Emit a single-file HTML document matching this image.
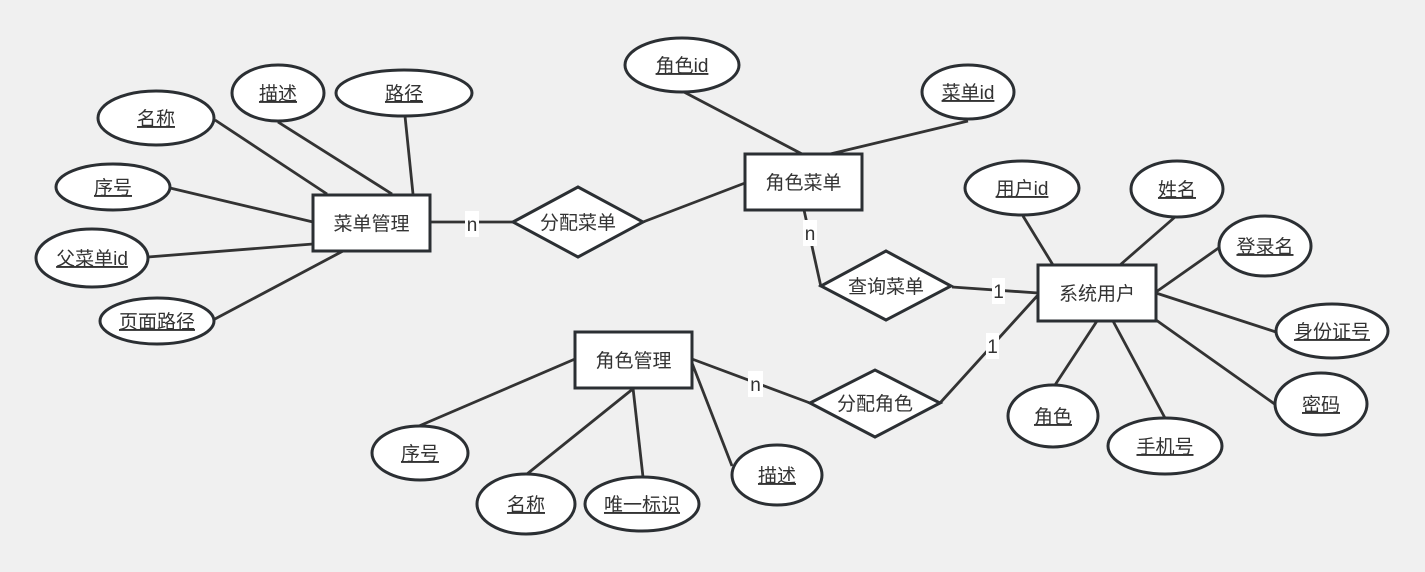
<!DOCTYPE html>
<html><head><meta charset="utf-8"><style>
html,body{margin:0;padding:0;background:#f0f0f0;}
svg{display:block;}
text{font-family:"Liberation Sans","Noto Sans CJK SC",sans-serif;font-size:19px;fill:#333;}
.u{text-decoration:underline;}
.l{stroke:#333;stroke-width:2.8;fill:none;}
.s{stroke:#2b2f33;stroke-width:3;fill:#fff;}
</style></head><body>
<svg width="1425" height="572" viewBox="0 0 1425 572" xmlns="http://www.w3.org/2000/svg">
<rect x="0" y="0" width="1425" height="572" fill="#f0f0f0"/>
<!-- lines -->
<g class="l">
<line x1="215" y1="120" x2="327" y2="194"/>
<line x1="278" y1="122" x2="392" y2="194"/>
<line x1="405" y1="116" x2="413" y2="194"/>
<line x1="170" y1="188" x2="313" y2="222"/>
<line x1="148" y1="257" x2="313" y2="244"/>
<line x1="213" y1="320" x2="343" y2="251"/>
<line x1="430" y1="222" x2="513" y2="222"/>
<line x1="643" y1="222" x2="745" y2="183"/>
<line x1="684" y1="92" x2="802" y2="154"/>
<line x1="968" y1="121" x2="826" y2="155"/>
<line x1="804" y1="210" x2="821" y2="287"/>
<line x1="952" y1="287" x2="1038" y2="293"/>
<line x1="1023" y1="216" x2="1053" y2="265"/>
<line x1="1175" y1="217" x2="1120" y2="265"/>
<line x1="1220" y1="247" x2="1156" y2="292"/>
<line x1="1276" y1="332" x2="1156" y2="293"/>
<line x1="1276" y1="405" x2="1156" y2="320"/>
<line x1="1165" y1="418" x2="1113" y2="321"/>
<line x1="1055" y1="385" x2="1097" y2="321"/>
<line x1="940" y1="403" x2="1038" y2="295"/>
<line x1="419" y1="426" x2="575" y2="359"/>
<line x1="527" y1="474" x2="634" y2="388"/>
<line x1="643" y1="477" x2="633" y2="388"/>
<line x1="732" y1="466" x2="692" y2="363"/>
<line x1="692" y1="359" x2="810" y2="403"/>
</g>
<!-- entities -->
<rect class="s" x="313" y="195" width="117" height="56"/>
<text x="371.5" y="230" text-anchor="middle">菜单管理</text>
<rect class="s" x="745" y="154" width="117" height="56"/>
<text x="803.5" y="189" text-anchor="middle">角色菜单</text>
<rect class="s" x="1038" y="265" width="118" height="56"/>
<text x="1097" y="300" text-anchor="middle">系统用户</text>
<rect class="s" x="575" y="332" width="117" height="56"/>
<text x="633.5" y="367" text-anchor="middle">角色管理</text>
<!-- relations -->
<polygon class="s" points="513,222 578,187 643,222 578,257"/>
<text x="578" y="229" text-anchor="middle">分配菜单</text>
<polygon class="s" points="821,286 886,251 951,286 886,320"/>
<text x="886" y="293" text-anchor="middle">查询菜单</text>
<polygon class="s" points="810,403 875,370 940,403 875,437"/>
<text x="875" y="410" text-anchor="middle">分配角色</text>
<!-- attributes -->
<g>
<ellipse class="s" cx="156" cy="118" rx="58" ry="27"/><text class="u" x="156" y="125" text-anchor="middle">名称</text>
<ellipse class="s" cx="278" cy="93" rx="46" ry="28"/><text class="u" x="278" y="100" text-anchor="middle">描述</text>
<ellipse class="s" cx="404" cy="93" rx="68" ry="23"/><text class="u" x="404" y="100" text-anchor="middle">路径</text>
<ellipse class="s" cx="113" cy="187" rx="57" ry="23"/><text class="u" x="113" y="194" text-anchor="middle">序号</text>
<ellipse class="s" cx="92" cy="258" rx="56" ry="29"/><text class="u" x="92" y="265" text-anchor="middle">父菜单id</text>
<ellipse class="s" cx="157" cy="321" rx="57" ry="23"/><text class="u" x="157" y="328" text-anchor="middle">页面路径</text>
<ellipse class="s" cx="682" cy="65" rx="57" ry="27"/><text class="u" x="682" y="72" text-anchor="middle">角色id</text>
<ellipse class="s" cx="968" cy="92" rx="46" ry="27"/><text class="u" x="968" y="99" text-anchor="middle">菜单id</text>
<ellipse class="s" cx="1022" cy="188" rx="57" ry="27"/><text class="u" x="1022" y="195" text-anchor="middle">用户id</text>
<ellipse class="s" cx="1177" cy="189" rx="46" ry="28"/><text class="u" x="1177" y="196" text-anchor="middle">姓名</text>
<ellipse class="s" cx="1265" cy="246" rx="46" ry="30"/><text class="u" x="1265" y="253" text-anchor="middle">登录名</text>
<ellipse class="s" cx="1332" cy="331" rx="56" ry="27"/><text class="u" x="1332" y="338" text-anchor="middle">身份证号</text>
<ellipse class="s" cx="1321" cy="404" rx="46" ry="31"/><text class="u" x="1321" y="411" text-anchor="middle">密码</text>
<ellipse class="s" cx="1165" cy="446" rx="57" ry="28"/><text class="u" x="1165" y="453" text-anchor="middle">手机号</text>
<ellipse class="s" cx="1053" cy="416" rx="45" ry="31"/><text class="u" x="1053" y="423" text-anchor="middle">角色</text>
<ellipse class="s" cx="420" cy="453" rx="48" ry="27"/><text class="u" x="420" y="460" text-anchor="middle">序号</text>
<ellipse class="s" cx="526" cy="504" rx="49" ry="30"/><text class="u" x="526" y="511" text-anchor="middle">名称</text>
<ellipse class="s" cx="642" cy="504" rx="57" ry="27"/><text class="u" x="642" y="511" text-anchor="middle">唯一标识</text>
<ellipse class="s" cx="777" cy="475" rx="45" ry="30"/><text class="u" x="777" y="482" text-anchor="middle">描述</text>
</g>
<!-- cardinality labels -->
<rect x="465" y="211" width="14" height="26" fill="#fff"/><text x="472" y="231" text-anchor="middle">n</text>
<rect x="803" y="220" width="14" height="26" fill="#fff"/><text x="810" y="240" text-anchor="middle">n</text>
<rect x="992" y="278" width="13" height="26" fill="#fff"/><text x="998.5" y="298" text-anchor="middle">1</text>
<rect x="986" y="333" width="13" height="26" fill="#fff"/><text x="992.5" y="353" text-anchor="middle">1</text>
<rect x="748" y="371" width="15" height="26" fill="#fff"/><text x="755.5" y="391" text-anchor="middle">n</text>
</svg>
</body></html>
